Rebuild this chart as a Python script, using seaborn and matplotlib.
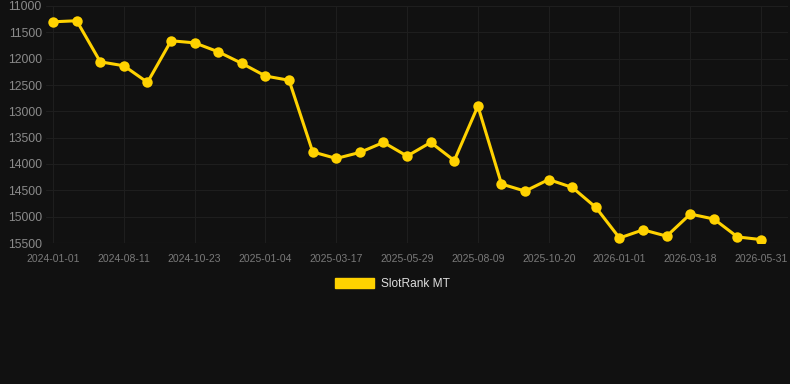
import numpy as np
import pandas as pd
import matplotlib
matplotlib.use("Agg")
import matplotlib.pyplot as plt
import seaborn as sns

# rank values (lower on screen = larger rank number)
ranks = [11300, 11280, 12060, 12135, 12450, 11660, 11700, 11870, 12090, 12330,
         12410, 13770, 13895, 13780, 13590, 13850, 13590, 13935, 12900, 14380,
         14515, 14295, 14445, 14825, 15405, 15250, 15370, 14950, 15045, 15385,
         15435]
tick_labels = ["2024-01-01", "2024-08-11", "2024-10-23", "2025-01-04",
               "2025-03-17", "2025-05-29", "2025-08-09", "2025-10-20",
               "2026-01-01", "2026-03-18", "2026-05-31"]
y_ticks = [11000, 11500, 12000, 12500, 13000, 13500, 14000, 14500, 15000, 15500]
series_name = "SlotRank MT"

bg = "#111111"
yellow = "#FFD200"
grid_col = "#1e1e1e"
label_col = "#8a8a8a"

df = pd.DataFrame({"idx": np.arange(len(ranks)), "rank": ranks})

sns.set_theme(style="dark")
plt.rcParams["font.family"] = ["Liberation Sans", "DejaVu Sans"]

fig = plt.figure(figsize=(7.9, 3.84), dpi=100, facecolor=bg)
ax = fig.add_axes([46 / 790, 1 - 243 / 384, (788 - 46) / 790, (243 - 6) / 384])
ax.set_facecolor(bg)

sns.lineplot(data=df, x="idx", y="rank", ax=ax, color=yellow, linewidth=2.2,
             marker="o", markersize=7.5, markeredgewidth=0, label=series_name,
             legend=False, zorder=3)

ax.set_ylim(15500, 11000)
ax.set_xlim(-0.3, 31.14)
ax.set_yticks(y_ticks)
ax.set_yticklabels([str(v) for v in y_ticks], fontsize=8.8, color=label_col)
tick_pos = np.arange(0, len(ranks), 3)
ax.set_xticks(tick_pos)
ax.set_xticklabels(tick_labels, fontsize=7.5, color="#7a7a7a")
ax.tick_params(axis="y", length=0, pad=3)
ax.tick_params(axis="x", length=4, color="#222222", pad=4)
ax.grid(True, color=grid_col, linewidth=0.8)
ax.set_xlabel("")
ax.set_ylabel("")
for s in ax.spines.values():
    s.set_visible(False)
ax.axhline(15500, color="#2c2c2c", linewidth=0.8, zorder=1)

# legend below the chart
handle = plt.Rectangle((0, 0), 1, 1, color=yellow)
fig.legend([handle], [series_name], loc="center", bbox_to_anchor=(0.497, 1 - 284 / 384),
           frameon=False, fontsize=8.6, labelcolor="#dddddd", handlelength=3.3,
           handleheight=0.9, handletextpad=0.6)

fig.savefig("out.png", dpi=100, facecolor=bg)
